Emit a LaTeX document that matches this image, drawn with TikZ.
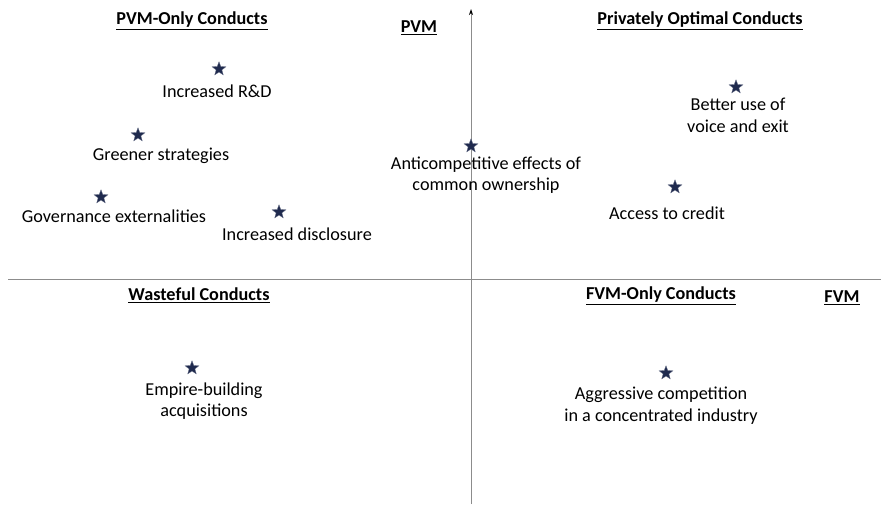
\documentclass[tikz,border=0pt]{standalone}
\usepackage{fontspec}
\setmainfont{Carlito}
\usetikzlibrary{shapes.geometric,arrows.meta}
\definecolor{navy}{HTML}{1F2A4E}
\definecolor{axisgray}{HTML}{8C8C8C}
\begin{document}
\begin{tikzpicture}[x=1pt,y=-1pt,
  lbl/.style={font=\fontsize{18.2}{21.5}\selectfont, align=center, inner sep=0pt, text=black},
  head/.style={font=\fontsize{18.2}{21}\selectfont\bfseries, inner sep=0pt},
  starm/.style={star, star points=5, star point ratio=2.4, minimum size=14.5pt, inner sep=0pt, fill=navy, draw=navy!70, line width=0.3pt},
  axis/.style={draw=axisgray, line width=0.9pt}]
\useasboundingbox (0,0) rectangle (881,504);
% axes
\coordinate (vb) at (471,504);
\coordinate (vt) at (471,9);
\coordinate (hl) at (8,279);
\coordinate (hr) at (881,279);
\draw[axis] (hl) -- (hr);
\draw[axis, -{Stealth[length=6pt,width=4pt,color=black]}] (vb) -- (vt);
% headings
\node[head] (h1) at (192,21) {\underline{PVM-Only Conducts}};
\node[head] (h2) at (419,28) {\underline{PVM}};
\node[head] (h3) at (700,21) {\underline{Privately Optimal Conducts}};
\node[head] (h4) at (199,295) {\underline{Wasteful Conducts}};
\node[head] (h5) at (661,296) {\underline{FVM-Only Conducts}};
\node[head] (h6) at (842,298) {\underline{FVM}};
% points
\node[starm] (s1) at (219,69) {};
\node[lbl] (t1) at (217,91) {Increased R\&D};
\node[starm] (s2) at (138,135) {};
\node[lbl] (t2) at (161,156) {Greener strategies};
\node[starm] (s3) at (101,197) {};
\node[lbl] (t3) at (114,216) {Governance externalities};
\node[starm] (s4) at (279,212) {};
\node[lbl] (t4) at (297,234) {Increased disclosure};
\node[starm] (s5) at (471,146) {};
\node[lbl] (t5) at (486,175) {Anticompetitive effects of\\common ownership};
\node[starm] (s6) at (736,87) {};
\node[lbl] (t6) at (738,115.5) {Better use of\\voice and exit};
\node[starm] (s7) at (675,187) {};
\node[lbl] (t7) at (667,213) {Access to credit};
\node[starm] (s8) at (192,368) {};
\node[lbl] (t8) at (204,401) {Empire-building\\acquisitions};
\node[starm] (s9) at (666,373) {};
\node[lbl] (t9) at (661,405.5) {Aggressive competition\\in a concentrated industry};
\end{tikzpicture}
\end{document}
